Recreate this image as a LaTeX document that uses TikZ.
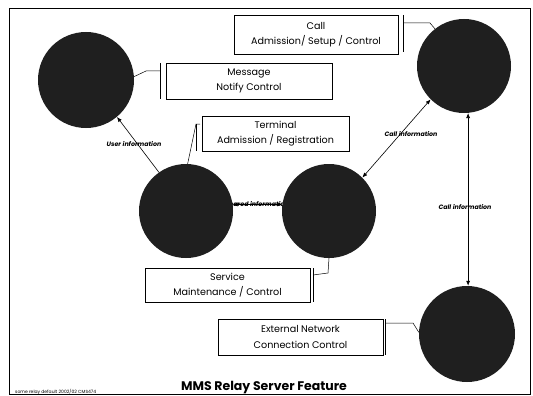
\documentclass[tikz,border=0pt]{standalone}
\usepackage{fontspec}
\setmainfont{Poppins}
\usetikzlibrary{arrows.meta}
\begin{document}
\begin{tikzpicture}[x=1pt,y=-1pt,
  hub/.style={circle, fill=black!88, minimum size=96pt, inner sep=0pt},
  lbox/.style={draw, line width=0.6pt, rectangle, align=center, font=\fontsize{9.6}{15.5}\selectfont, inner sep=0pt},
  alabel/.style={font=\fontsize{6.3}{7}\selectfont\bfseries\itshape, inner sep=0.5pt},
  tipstyle/.style={line width=0.6pt},
  arr/.style={tipstyle, -{Latex[length=5pt,width=4pt]}},
  biarr/.style={tipstyle, {Latex[length=5pt,width=4pt]}-{Latex[length=5pt,width=4pt]}},
  lead/.style={line width=0.5pt},
  brk/.style={line width=0.6pt}
]
\useasboundingbox (0,0) rectangle (533,396);
\draw[line width=0.6pt] (9,8) rectangle (530,394);

% label hidden partly behind the circles
\node[alabel] (shl) at (257,204) {Shared information};

% circles
\node[hub] (A) at (86,80) {};
\node[hub, minimum size=94pt] (B) at (464,66) {};
\node[hub, minimum size=94pt] (C) at (186,211) {};
\node[hub, minimum size=94pt] (D) at (329,211) {};
\node[hub] (E) at (467,334) {};

% boxes
\node[lbox, minimum width=164pt, minimum height=39pt] (bcall) at (316,34.5) {Call\\Admission/ Setup / Control};
\node[lbox, minimum width=166pt, minimum height=36pt] (bmsg) at (249,81) {Message\\Notify Control};
\node[lbox, minimum width=147pt, minimum height=35pt] (bterm) at (275.5,133.5) {Terminal\\Admission / Registration};
\node[lbox, minimum width=165pt, minimum height=34pt] (bserv) at (227.5,285) {Service\\Maintenance / Control};
\node[lbox, minimum width=165pt, minimum height=36pt] (bext) at (300.5,337) {External Network\\Connection Control};

% brackets
\coordinate (kc1) at (403,15); \coordinate (kc2) at (403,52);
\coordinate (km1) at (160,63); \coordinate (km2) at (160,99);
\coordinate (kt1) at (196,124); \coordinate (kt2) at (196,151);
\coordinate (ks1) at (313,268); \coordinate (ks2) at (313,302);
\coordinate (ke1) at (385,319); \coordinate (ke2) at (385,355);
\draw[brk] (kc1) -- (kc2);
\draw[brk] (km1) -- (km2);
\draw[brk] (kt1) -- (kt2);
\draw[brk] (ks1) -- (ks2);
\draw[brk] (ke1) -- (ke2);

% leads from boxes to circles
\coordinate (lc) at (403,23); \coordinate (lc2) at (430,23);
\draw[lead] (lc) -- (lc2) -- (B.128);
\coordinate (lm) at (160,71); \coordinate (lm2) at (146,71);
\draw[lead] (lm) -- (lm2) -- (A.4);
\coordinate (lt) at (196,124); \coordinate (lt0) at (200,124);
\draw[lead] (lt0) -- (lt) -- (C.88);
\coordinate (ls) at (313,275); \coordinate (ls2) at (328,273);
\draw[lead] (ls) -- (ls2) -- (D.270);
\coordinate (le) at (385,323); \coordinate (le2) at (413,323);
\draw[lead] (le) -- (le2) -- (E.178);

% information arrows
\draw[arr] (C.125) -- (A.-50);
\node[alabel] (ul) at (134,144) {User information};
\draw[biarr] (C.8) -- (D.172);
\draw[biarr] (D.45) -- (B.-135);
\node[alabel] (cl1) at (411,134) {Call information};
\draw[biarr] (B.-85) -- (B.-85 |- E.north);
\node[alabel] (cl2) at (465,207) {Call information};

% title and footer
\node[font=\fontsize{12.5}{14}\selectfont\bfseries] (title) at (264,388) {MMS Relay Server Feature};
\node[font=\fontsize{4.5}{5}\selectfont, anchor=west, inner sep=0pt] (foot) at (15,392) {some relay default 2002/02 CMS474};
\end{tikzpicture}
\end{document}
